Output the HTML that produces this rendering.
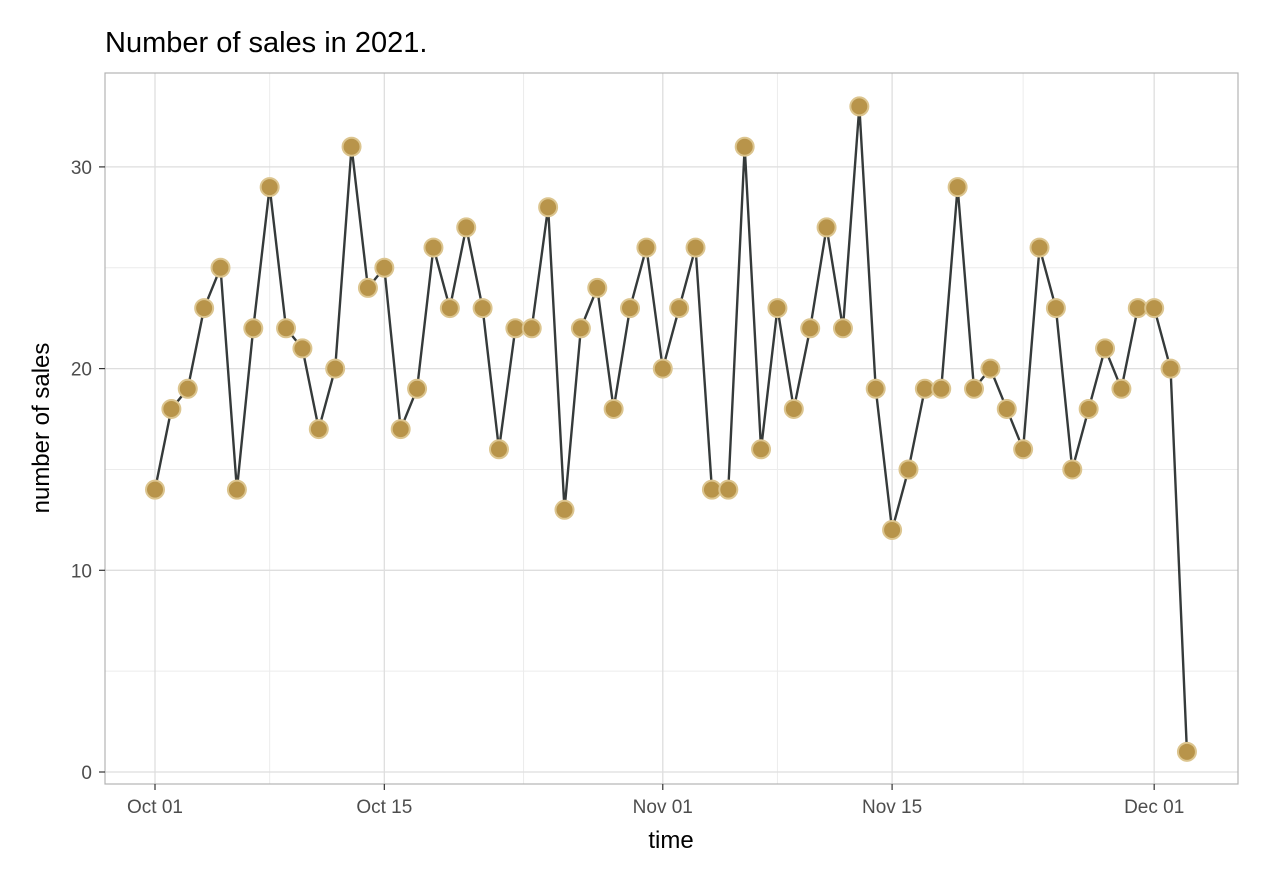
<!DOCTYPE html>
<html><head><meta charset="utf-8"><style>
body{margin:0;background:#fff;}
svg text{font-family:"Liberation Sans",Arial,sans-serif;}
</style></head><body>
<svg id="chart" width="1285" height="873">
<text x="105" y="52" font-size="29" fill="#000">Number of sales in 2021.</text>
<g id="grid"></g>
<g id="series"></g>
<rect x="105" y="73" width="1133" height="711" fill="none" stroke="#b3b3b3" stroke-width="1.2"/>
<g id="axes"></g>
<text x="671" y="848" font-size="24" text-anchor="middle" fill="#000">time</text>
<text transform="translate(49,428) rotate(-90)" font-size="24" text-anchor="middle" fill="#000">number of sales</text>
</svg>
<script>
const values = [14,18,19,23,25,14,22,29,22,21,17,20,31,24,25,17,19,26,23,27,23,16,22,22,28,13,22,24,18,23,26,
20,23,26,14,14,31,16,23,18,22,27,22,33,19,12,15,19,19,29,19,20,18,16,26,23,15,18,21,19,23,
23,20,1];
const xTickLabels = ["Oct 01","Oct 15","Nov 01","Nov 15","Dec 01"];
const xTickDays = [0,14,31,45,61];
const xMinorDays = [7,22.5,38,53];
const yTicks = [0,10,20,30];
const yMinor = [5,15,25];
const NS="http://www.w3.org/2000/svg";
const x = d => 155 + d*16.38;
const y = v => 772 - v*20.17;
function mk(tag, attrs, parent){const e=document.createElementNS(NS,tag);for(const k in attrs)e.setAttribute(k,attrs[k]);parent.appendChild(e);return e;}
const grid=document.getElementById('grid'), axes=document.getElementById('axes'), ser=document.getElementById('series');
yMinor.forEach(v=>{const l=mk('line',{x1:105,x2:1238,y1:y(v),y2:y(v),stroke:'#ececec','stroke-width':1},grid);

});
xMinorDays.forEach(d=>{const l=mk('line',{x1:x(d),x2:x(d),y1:73,y2:784,stroke:'#ececec','stroke-width':1},grid);

});
yTicks.forEach(v=>{const l=mk('line',{x1:105,x2:1238,y1:y(v),y2:y(v),stroke:'#dedede','stroke-width':1.3},grid);


mk('line',{x1:99,x2:105,y1:y(v),y2:y(v),stroke:'#333','stroke-width':1.2},axes);
const t=mk('text',{x:92,y:y(v)+7,'font-size':19,'text-anchor':'end',fill:'#4d4d4d'},axes);t.textContent=v;

});
xTickDays.forEach((d,i)=>{const l=mk('line',{x1:x(d),x2:x(d),y1:73,y2:784,stroke:'#dedede','stroke-width':1.3},grid);


mk('line',{x1:x(d),x2:x(d),y1:784,y2:790,stroke:'#333','stroke-width':1.2},axes);
const t=mk('text',{x:x(d),y:813,'font-size':19,'text-anchor':'middle',fill:'#4d4d4d'},axes);t.textContent=xTickLabels[i];

});
const pl=mk('polyline',{points:values.map((v,i)=>x(i)+','+y(v)).join(' '),fill:'none',stroke:'#353a3a','stroke-width':2.4},ser);


values.forEach((v,i)=>{const c=mk('circle',{cx:x(i),cy:y(v),r:9,fill:'#b8944a',stroke:'#dcc58f','stroke-width':2},ser);

});
</script>
</body></html>
